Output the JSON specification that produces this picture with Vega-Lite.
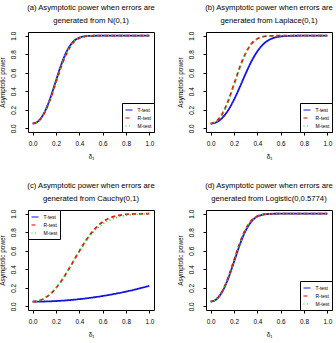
{
  "$schema": "https://vega.github.io/schema/vega-lite/v6.json",
  "autosize": {"type": "none"},
  "padding": {"left": 28, "top": 32, "right": 308, "bottom": 311},
  "background": "white",
  "bounds": "flush",
  "columns": 2,
  "spacing": {"row": 78, "column": 52},
  "data": {"values": [
    {"p":"a","d":0,"T":0.05,"R":0.05,"M":0.05},
    {"p":"a","d":0.05,"T":0.079,"R":0.078,"M":0.078},
    {"p":"a","d":0.1,"T":0.170,"R":0.164,"M":0.166},
    {"p":"a","d":0.15,"T":0.323,"R":0.311,"M":0.315},
    {"p":"a","d":0.2,"T":0.516,"R":0.498,"M":0.505},
    {"p":"a","d":0.25,"T":0.705,"R":0.685,"M":0.692},
    {"p":"a","d":0.3,"T":0.851,"R":0.834,"M":0.840},
    {"p":"a","d":0.35,"T":0.938,"R":0.928,"M":0.931},
    {"p":"a","d":0.4,"T":0.979,"R":0.974,"M":0.976},
    {"p":"a","d":0.45,"T":0.9945,"R":0.993,"M":0.993},
    {"p":"a","d":0.5,"T":0.9988,"R":0.998,"M":0.9985},
    {"p":"a","d":0.55,"T":0.9998,"R":0.9997,"M":0.9997},
    {"p":"a","d":0.6,"T":1,"R":1,"M":1},
    {"p":"a","d":0.65,"T":1,"R":1,"M":1},
    {"p":"a","d":0.7,"T":1,"R":1,"M":1},
    {"p":"a","d":0.75,"T":1,"R":1,"M":1},
    {"p":"a","d":0.8,"T":1,"R":1,"M":1},
    {"p":"a","d":0.85,"T":1,"R":1,"M":1},
    {"p":"a","d":0.9,"T":1,"R":1,"M":1},
    {"p":"a","d":0.95,"T":1,"R":1,"M":1},
    {"p":"a","d":1,"T":1,"R":1,"M":1},
    {"p":"b","d":0,"T":0.05,"R":0.05,"M":0.05},
    {"p":"b","d":0.05,"T":0.065,"R":0.076,"M":0.075},
    {"p":"b","d":0.1,"T":0.113,"R":0.158,"M":0.155},
    {"p":"b","d":0.15,"T":0.195,"R":0.297,"M":0.291},
    {"p":"b","d":0.2,"T":0.309,"R":0.476,"M":0.467},
    {"p":"b","d":0.25,"T":0.446,"R":0.661,"M":0.651},
    {"p":"b","d":0.3,"T":0.591,"R":0.813,"M":0.805},
    {"p":"b","d":0.35,"T":0.724,"R":0.914,"M":0.908},
    {"p":"b","d":0.4,"T":0.831,"R":0.967,"M":0.964},
    {"p":"b","d":0.45,"T":0.907,"R":0.9897,"M":0.988},
    {"p":"b","d":0.5,"T":0.9545,"R":0.9974,"M":0.997},
    {"p":"b","d":0.55,"T":0.980,"R":0.9995,"M":0.9993},
    {"p":"b","d":0.6,"T":0.992,"R":1,"M":1},
    {"p":"b","d":0.65,"T":0.9973,"R":1,"M":1},
    {"p":"b","d":0.7,"T":0.9992,"R":1,"M":1},
    {"p":"b","d":0.75,"T":0.9998,"R":1,"M":1},
    {"p":"b","d":0.8,"T":1,"R":1,"M":1},
    {"p":"b","d":0.85,"T":1,"R":1,"M":1},
    {"p":"b","d":0.9,"T":1,"R":1,"M":1},
    {"p":"b","d":0.95,"T":1,"R":1,"M":1},
    {"p":"b","d":1,"T":1,"R":1,"M":1},
    {"p":"c","d":0,"T":0.05,"R":0.05,"M":0.05},
    {"p":"c","d":0.05,"T":0.0504,"R":0.059,"M":0.059},
    {"p":"c","d":0.1,"T":0.0517,"R":0.085,"M":0.085},
    {"p":"c","d":0.15,"T":0.0538,"R":0.131,"M":0.131},
    {"p":"c","d":0.2,"T":0.0568,"R":0.197,"M":0.197},
    {"p":"c","d":0.25,"T":0.0606,"R":0.281,"M":0.281},
    {"p":"c","d":0.3,"T":0.0653,"R":0.380,"M":0.380},
    {"p":"c","d":0.35,"T":0.0708,"R":0.488,"M":0.487},
    {"p":"c","d":0.4,"T":0.0772,"R":0.596,"M":0.593},
    {"p":"c","d":0.45,"T":0.0844,"R":0.698,"M":0.690},
    {"p":"c","d":0.5,"T":0.0925,"R":0.787,"M":0.775},
    {"p":"c","d":0.55,"T":0.1014,"R":0.858,"M":0.840},
    {"p":"c","d":0.6,"T":0.1112,"R":0.911,"M":0.890},
    {"p":"c","d":0.65,"T":0.1218,"R":0.948,"M":0.925},
    {"p":"c","d":0.7,"T":0.1333,"R":0.971,"M":0.952},
    {"p":"c","d":0.75,"T":0.1456,"R":0.985,"M":0.970},
    {"p":"c","d":0.8,"T":0.1588,"R":0.993,"M":0.982},
    {"p":"c","d":0.85,"T":0.1728,"R":0.997,"M":0.990},
    {"p":"c","d":0.9,"T":0.1877,"R":0.9986,"M":0.995},
    {"p":"c","d":0.95,"T":0.2034,"R":0.9995,"M":0.998},
    {"p":"c","d":1,"T":0.22,"R":0.9998,"M":0.999},
    {"p":"d","d":0,"T":0.05,"R":0.05,"M":0.05},
    {"p":"d","d":0.05,"T":0.076,"R":0.078,"M":0.077},
    {"p":"d","d":0.1,"T":0.159,"R":0.164,"M":0.161},
    {"p":"d","d":0.15,"T":0.299,"R":0.311,"M":0.304},
    {"p":"d","d":0.2,"T":0.480,"R":0.498,"M":0.488},
    {"p":"d","d":0.25,"T":0.666,"R":0.685,"M":0.674},
    {"p":"d","d":0.3,"T":0.817,"R":0.834,"M":0.825},
    {"p":"d","d":0.35,"T":0.917,"R":0.928,"M":0.922},
    {"p":"d","d":0.4,"T":0.969,"R":0.974,"M":0.971},
    {"p":"d","d":0.45,"T":0.990,"R":0.993,"M":0.991},
    {"p":"d","d":0.5,"T":0.9976,"R":0.998,"M":0.998},
    {"p":"d","d":0.55,"T":0.9995,"R":0.9997,"M":0.9996},
    {"p":"d","d":0.6,"T":1,"R":1,"M":1},
    {"p":"d","d":0.65,"T":1,"R":1,"M":1},
    {"p":"d","d":0.7,"T":1,"R":1,"M":1},
    {"p":"d","d":0.75,"T":1,"R":1,"M":1},
    {"p":"d","d":0.8,"T":1,"R":1,"M":1},
    {"p":"d","d":0.85,"T":1,"R":1,"M":1},
    {"p":"d","d":0.9,"T":1,"R":1,"M":1},
    {"p":"d","d":0.95,"T":1,"R":1,"M":1},
    {"p":"d","d":1,"T":1,"R":1,"M":1}
  ]},
  "resolve": {"scale": {"color": "independent", "strokeDash": "independent"}},
  "concat": [
    {
      "title": {"text": ["(a) Asymptotic power when errors are", "generated from N(0,1)"]},
      "width": 126, "height": 100,
      "transform": [{"filter": "datum.p == 'a'"}, {"fold": ["T", "R", "M"], "as": ["test", "y"]}],
      "mark": {"type": "line", "strokeWidth": 1.8, "interpolate": "monotone", "clip": true},
      "encoding": {
        "x": {"field": "d", "type": "quantitative", "scale": {"domain": [-0.04, 1.04], "nice": false, "zero": false}, "axis": {"title": "δ₁", "values": [0, 0.2, 0.4, 0.6, 0.8, 1], "format": ".1f"}},
        "y": {"field": "y", "type": "quantitative", "scale": {"domain": [-0.04, 1.04], "nice": false, "zero": false}, "axis": {"title": "Asymptotic power", "values": [0, 0.2, 0.4, 0.6, 0.8, 1], "format": ".1f"}},
        "color": {"field": "test", "type": "nominal", "scale": {"domain": ["T", "R", "M"], "range": ["#1414E0", "#E01414", "#3CCB3C"]}, "legend": {"title": null, "orient": "bottom-right", "labelExpr": "datum.label + '-test'"}},
        "strokeDash": {"field": "test", "type": "nominal", "scale": {"domain": ["T", "R", "M"], "range": [[1, 0], [4, 3], [1, 2.5]]}, "legend": {"title": null, "orient": "bottom-right", "labelExpr": "datum.label + '-test'"}}
      }
    },
    {
      "title": {"text": ["(b) Asymptotic power when errors are", "generated from Laplace(0,1)"]},
      "width": 126, "height": 100,
      "transform": [{"filter": "datum.p == 'b'"}, {"fold": ["T", "R", "M"], "as": ["test", "y"]}],
      "mark": {"type": "line", "strokeWidth": 1.8, "interpolate": "monotone", "clip": true},
      "encoding": {
        "x": {"field": "d", "type": "quantitative", "scale": {"domain": [-0.04, 1.04], "nice": false, "zero": false}, "axis": {"title": "δ₁", "values": [0, 0.2, 0.4, 0.6, 0.8, 1], "format": ".1f"}},
        "y": {"field": "y", "type": "quantitative", "scale": {"domain": [-0.04, 1.04], "nice": false, "zero": false}, "axis": {"title": "Asymptotic power", "values": [0, 0.2, 0.4, 0.6, 0.8, 1], "format": ".1f"}},
        "color": {"field": "test", "type": "nominal", "scale": {"domain": ["T", "R", "M"], "range": ["#1414E0", "#E01414", "#3CCB3C"]}, "legend": {"title": null, "orient": "bottom-right", "labelExpr": "datum.label + '-test'"}},
        "strokeDash": {"field": "test", "type": "nominal", "scale": {"domain": ["T", "R", "M"], "range": [[1, 0], [4, 3], [1, 2.5]]}, "legend": {"title": null, "orient": "bottom-right", "labelExpr": "datum.label + '-test'"}}
      }
    },
    {
      "title": {"text": ["(c) Asymptotic power when errors are", "generated from Cauchy(0,1)"]},
      "width": 126, "height": 100,
      "transform": [{"filter": "datum.p == 'c'"}, {"fold": ["T", "R", "M"], "as": ["test", "y"]}],
      "mark": {"type": "line", "strokeWidth": 1.8, "interpolate": "monotone", "clip": true},
      "encoding": {
        "x": {"field": "d", "type": "quantitative", "scale": {"domain": [-0.04, 1.04], "nice": false, "zero": false}, "axis": {"title": "δ₁", "values": [0, 0.2, 0.4, 0.6, 0.8, 1], "format": ".1f"}},
        "y": {"field": "y", "type": "quantitative", "scale": {"domain": [-0.04, 1.04], "nice": false, "zero": false}, "axis": {"title": "Asymptotic power", "values": [0, 0.2, 0.4, 0.6, 0.8, 1], "format": ".1f"}},
        "color": {"field": "test", "type": "nominal", "scale": {"domain": ["T", "R", "M"], "range": ["#1414E0", "#E01414", "#3CCB3C"]}, "legend": {"title": null, "orient": "top-left", "labelExpr": "datum.label + '-test'"}},
        "strokeDash": {"field": "test", "type": "nominal", "scale": {"domain": ["T", "R", "M"], "range": [[1, 0], [4, 3], [1, 2.5]]}, "legend": {"title": null, "orient": "top-left", "labelExpr": "datum.label + '-test'"}}
      }
    },
    {
      "title": {"text": ["(d) Asymptotic power when errors are", "generated from Logistic(0,0.5774)"]},
      "width": 126, "height": 100,
      "transform": [{"filter": "datum.p == 'd'"}, {"fold": ["T", "R", "M"], "as": ["test", "y"]}],
      "mark": {"type": "line", "strokeWidth": 1.8, "interpolate": "monotone", "clip": true},
      "encoding": {
        "x": {"field": "d", "type": "quantitative", "scale": {"domain": [-0.04, 1.04], "nice": false, "zero": false}, "axis": {"title": "δ₁", "values": [0, 0.2, 0.4, 0.6, 0.8, 1], "format": ".1f"}},
        "y": {"field": "y", "type": "quantitative", "scale": {"domain": [-0.04, 1.04], "nice": false, "zero": false}, "axis": {"title": "Asymptotic power", "values": [0, 0.2, 0.4, 0.6, 0.8, 1], "format": ".1f"}},
        "color": {"field": "test", "type": "nominal", "scale": {"domain": ["T", "R", "M"], "range": ["#1414E0", "#E01414", "#3CCB3C"]}, "legend": {"title": null, "orient": "bottom-right", "labelExpr": "datum.label + '-test'"}},
        "strokeDash": {"field": "test", "type": "nominal", "scale": {"domain": ["T", "R", "M"], "range": [[1, 0], [4, 3], [1, 2.5]]}, "legend": {"title": null, "orient": "bottom-right", "labelExpr": "datum.label + '-test'"}}
      }
    }
  ],
  "config": {
    "font": "Liberation Sans",
    "view": {"stroke": "black", "strokeWidth": 1},
    "title": {"font": "Liberation Sans", "fontSize": 7.7, "fontWeight": "normal", "color": "black", "anchor": "middle", "frame": "group", "lineHeight": 13, "offset": 7},
    "axis": {"domain": false, "grid": false, "ticks": true, "tickColor": "black", "tickSize": 3, "labelFont": "Liberation Sans", "labelFontSize": 6.4, "labelColor": "black", "titleFont": "Liberation Sans", "titleFontSize": 6.4, "titleFontWeight": "normal", "titleColor": "black"},
    "axisX": {"labelPadding": 5.5, "titlePadding": 7},
    "axisY": {"labelAngle": 270, "labelAlign": "center", "labelBaseline": "bottom", "labelPadding": 8.5, "titlePadding": 5},
    "legend": {"strokeColor": "black", "fillColor": "white", "padding": 2.5, "offset": 0, "cornerRadius": 0, "labelFont": "Liberation Sans", "labelFontSize": 5, "labelColor": "black", "symbolType": "stroke", "symbolSize": 49, "symbolStrokeWidth": 1.1, "rowPadding": 0, "labelOffset": 4}
  }
}
